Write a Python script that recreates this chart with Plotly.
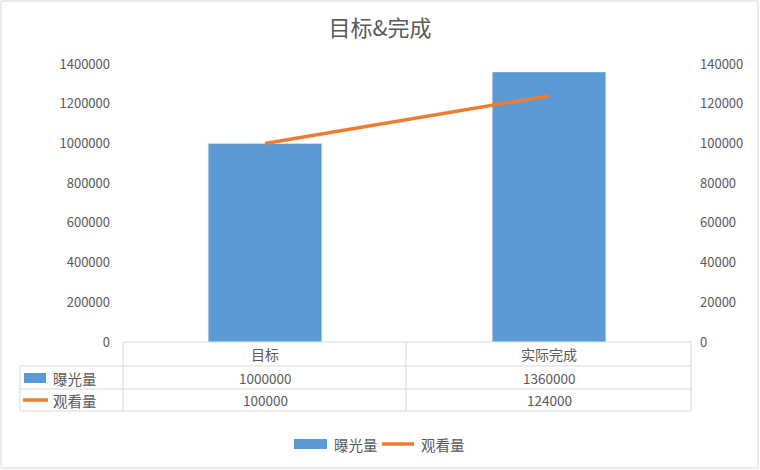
import plotly.graph_objects as go

categories = ["目标", "实际完成"]
exposure = [1000000, 1360000]   # 曝光量, left axis
views = [100000, 124000]        # 观看量, right axis
series_names = ["曝光量", "观看量"]

W, H = 760, 470
L, R, T, B = 123, 69, 64, 128
BLUE = "#5B9BD5"
ORANGE = "#ED7D31"
GRAY = "#595959"
LINE = "#D9D9D9"
FONT = "Noto Sans CJK SC"


# pixel -> paper helpers for the data table under the plot
def px(x):
    return (x - L) / (W - L - R)


def py(y):
    return (H - B - y) / (H - T - B)


fig = go.Figure()
fig.add_trace(go.Bar(x=categories, y=exposure, name=series_names[0],
                     marker_color=BLUE, width=0.4))
fig.add_trace(go.Scatter(x=categories, y=views, name=series_names[1], yaxis="y2",
                         mode="lines", line=dict(color=ORANGE, width=3.5)))

shapes = []
annotations = []


def hline(y, x0, x1):
    shapes.append(dict(type="line", xref="paper", yref="paper", x0=px(x0), x1=px(x1),
                       y0=py(y), y1=py(y), line=dict(color=LINE, width=1)))


def vline(x, y0, y1):
    shapes.append(dict(type="line", xref="paper", yref="paper", x0=px(x), x1=px(x),
                       y0=py(y0), y1=py(y1), line=dict(color=LINE, width=1)))


def label(x, y, text, size, xref="paper", xanchor="center"):
    annotations.append(dict(x=x, xref=xref, y=py(y), yref="paper", text=text,
                            xanchor=xanchor, yanchor="middle", showarrow=False,
                            font=dict(size=size, color=GRAY, family=FONT)))


# table grid
rows_y = [342, 366, 389, 411]
hline(342, 123, 691)
for y in rows_y[1:]:
    hline(y, 20, 691)
for x in [123, 406, 691]:
    vline(x, 342, 411)
vline(20, 366, 411)

# header row and values
for i, cat in enumerate(categories):
    label(cat, 354, cat, 14, xref="x")
    label(cat, 378, str(exposure[i]), 13.5, xref="x")
    label(cat, 400, str(views[i]), 13.5, xref="x")


# legend keys (table and bottom legend)
def key_bar(x0, x1, yc):
    shapes.append(dict(type="rect", xref="paper", yref="paper", x0=px(x0), x1=px(x1),
                       y0=py(yc + 5), y1=py(yc - 5), fillcolor=BLUE, line=dict(width=0)))


def key_line(x0, x1, yc):
    shapes.append(dict(type="line", xref="paper", yref="paper", x0=px(x0), x1=px(x1),
                       y0=py(yc), y1=py(yc), line=dict(color=ORANGE, width=3.5)))


key_bar(24, 46, 378)
key_line(23, 48, 400)
label(px(51), 378, series_names[0], 14.5, xanchor="left")
label(px(51), 400, series_names[1], 14.5, xanchor="left")

key_bar(294, 327, 444)
label(px(332), 444, series_names[0], 14.5, xanchor="left")
key_line(382, 414, 444)
label(px(419), 444, series_names[1], 14.5, xanchor="left")

# outer chart border
shapes.append(dict(type="rect", xref="paper", yref="paper", x0=px(1), x1=px(758),
                   y0=py(468), y1=py(1), line=dict(color=LINE, width=1)))

fig.update_layout(
    width=W, height=H,
    margin=dict(l=L, r=R, t=T, b=B),
    paper_bgcolor="white", plot_bgcolor="white",
    font=dict(family=FONT, color=GRAY, size=12),
    title=dict(text="目标&完成", x=0.5, xref="container", xanchor="center",
               y=1 - 28 / H, yanchor="middle",
               font=dict(size=22, color=GRAY, family=FONT)),
    xaxis=dict(showticklabels=False, showgrid=False, showline=False, zeroline=False,
               ticks=""),
    yaxis=dict(range=[0, 1400000], dtick=200000, showgrid=False, zeroline=False,
               showline=False, ticks="", tickformat="d", ticklabelstandoff=12,
               tickfont=dict(size=13, color=GRAY)),
    yaxis2=dict(range=[0, 140000], dtick=20000, overlaying="y", side="right",
                showgrid=False, zeroline=False, showline=False, ticks="",
                tickformat="d", ticklabelstandoff=8,
                tickfont=dict(size=13, color=GRAY)),
    showlegend=False,
    shapes=shapes,
    annotations=annotations,
)

fig.write_html("out.html", config={"displayModeBar": False},
               post_script="document.body.style.margin='0';")
